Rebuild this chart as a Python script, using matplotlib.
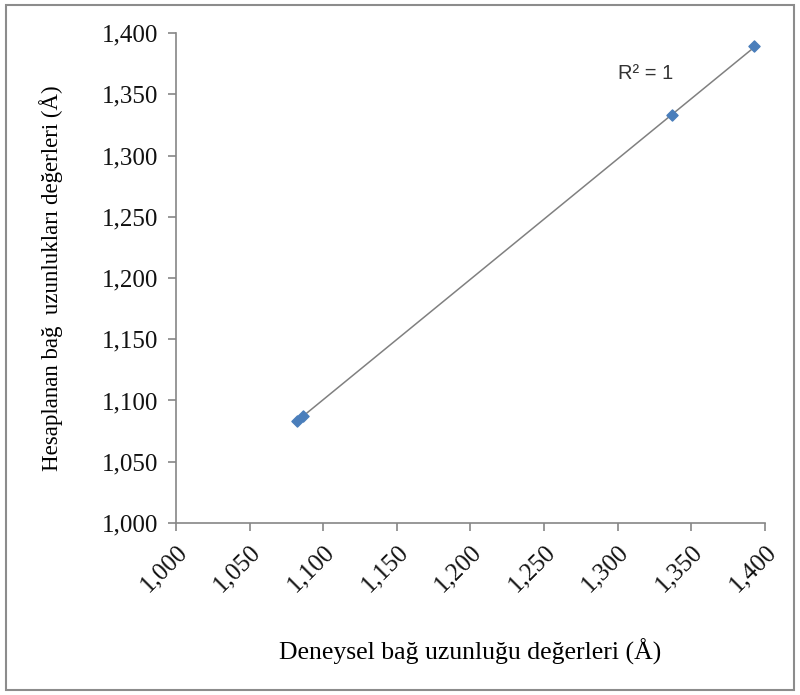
import matplotlib
matplotlib.use('Agg')
import matplotlib.pyplot as plt
from matplotlib.patches import Rectangle
import numpy as np

# bag uzunluklari (Angstrom)
deneysel = [1.082, 1.086, 1.337, 1.393]
hesaplanan = [1.083, 1.087, 1.333, 1.389]
ticks = [1.000, 1.050, 1.100, 1.150, 1.200, 1.250, 1.300, 1.350, 1.400]

def virgul(v):
    return ('%.3f' % v).replace('.', ',')

fig = plt.figure(figsize=(8, 6.95), dpi=100)
ax = fig.add_axes([0.22, 0.2475, 0.736, 0.705])

# dis cerceve
fig.patches.append(Rectangle((0.007, 0.007), 0.986, 0.986, transform=fig.transFigure,
                             fill=False, edgecolor='#8c8c8c', linewidth=1.5))

x = np.array(deneysel)
y = np.array(hesaplanan)
m, b = np.polyfit(x, y, 1)
xs = np.array([x.min(), x.max()])
ax.plot(xs, m * xs + b, color='#808080', linewidth=1.1, zorder=2)
ax.scatter(x, y, marker='D', s=32, color='#4a7ebb', zorder=3)

ax.set_xlim(1.0, 1.4)
ax.set_ylim(1.0, 1.4)
ax.set_xticks(ticks)
ax.set_yticks(ticks)
ax.set_xticklabels([virgul(t) for t in ticks], rotation=45, ha='right', va='top',
                   rotation_mode='anchor')
ax.set_yticklabels([virgul(t) for t in ticks])

for sp in ['top', 'right']:
    ax.spines[sp].set_visible(False)
for sp in ['left', 'bottom']:
    ax.spines[sp].set_color('#868686')
    ax.spines[sp].set_linewidth(1.2)
ax.tick_params(direction='out', length=6, width=1.2, color='#868686',
               labelsize=18, labelcolor='#111111', pad=7)
for lab in ax.get_xticklabels() + ax.get_yticklabels():
    lab.set_family('Liberation Serif')

ax.set_xlabel('Deneysel bağ uzunluğu değerleri (Å)', family='Liberation Serif',
              fontsize=18.5, labelpad=30)
ax.set_ylabel('Hesaplanan bağ  uzunlukları değerleri (Å)', family='Liberation Serif',
              fontsize=16.5, labelpad=28)

ax.text(0.798, 0.918, 'R² = 1', transform=ax.transAxes, fontsize=14.5,
        family='Liberation Sans', color='#333333', ha='center', va='center')

fig.savefig('out.png', dpi=100)
